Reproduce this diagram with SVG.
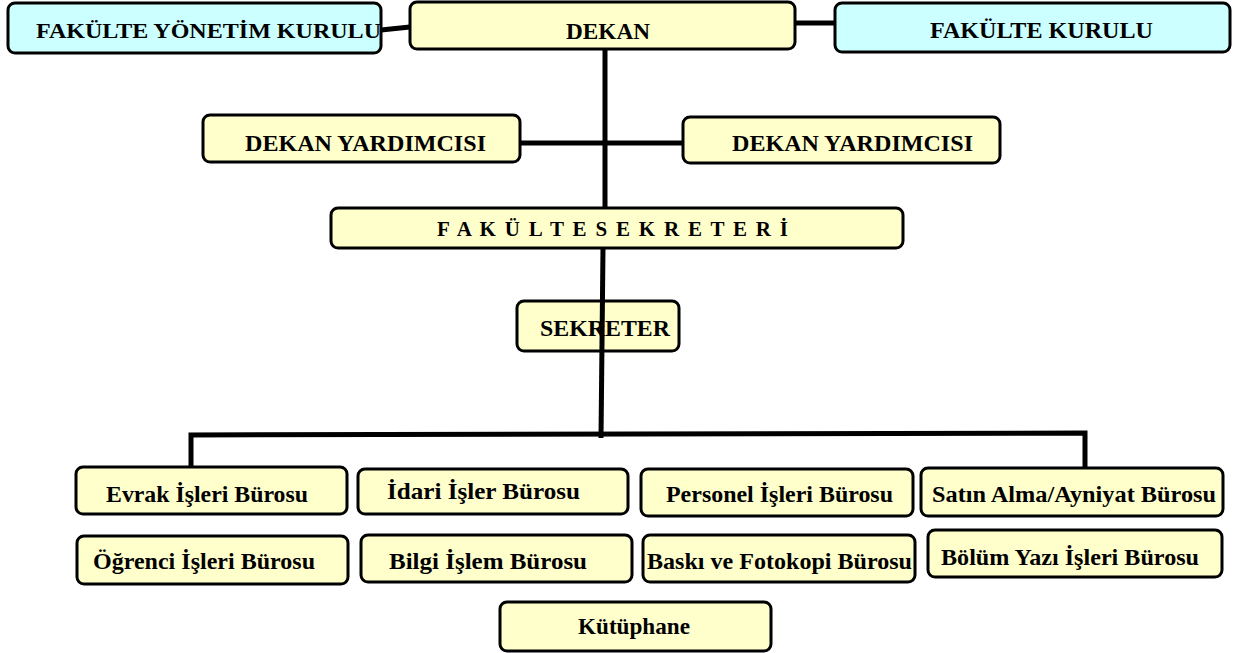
<svg xmlns="http://www.w3.org/2000/svg" width="1235" height="653" viewBox="0 0 1235 653">
<style>
.box{fill:#FFFFCC;stroke:#000;stroke-width:3}
.cyan{fill:#CCFFFF;stroke:#000;stroke-width:3}
.t{font-family:"Liberation Serif","Times New Roman",serif;font-weight:bold;fill:#000}
.c{fill:none;stroke:#000;stroke-width:5;stroke-linejoin:miter}
</style>
<rect width="1235" height="653" fill="#fff"/>
<g id="fakulte-yonetim-kurulu">
<rect class="cyan" x="8" y="3" width="373" height="50" rx="7"/>
<text class="t" x="36" y="38" font-size="22" textLength="345" lengthAdjust="spacingAndGlyphs">FAKÜLTE YÖNETİM KURULU</text>
</g>
<g id="dekan">
<rect class="box" x="410" y="2" width="385" height="47" rx="7"/>
<text class="t" x="566" y="39" font-size="24" textLength="84" lengthAdjust="spacingAndGlyphs">DEKAN</text>
</g>
<g id="fakulte-kurulu">
<rect class="cyan" x="835" y="3" width="395" height="49" rx="7"/>
<text class="t" x="930" y="38" font-size="23" textLength="223" lengthAdjust="spacingAndGlyphs">FAKÜLTE KURULU</text>
</g>
<g id="dekan-yardimcisi-1">
<rect class="box" x="203" y="115" width="317" height="47" rx="7"/>
<text class="t" x="245" y="151" font-size="23" textLength="241" lengthAdjust="spacingAndGlyphs">DEKAN YARDIMCISI</text>
</g>
<g id="dekan-yardimcisi-2">
<rect class="box" x="683" y="117" width="317" height="46" rx="7"/>
<text class="t" x="732" y="151" font-size="23" textLength="241" lengthAdjust="spacingAndGlyphs">DEKAN YARDIMCISI</text>
</g>
<g id="fakulte-sekreteri">
<rect class="box" x="331" y="208" width="572" height="40" rx="7"/>
<text class="t" x="437" y="236" font-size="21" textLength="351" lengthAdjust="spacing">F A K Ü L T E S E K R E T E R İ</text>
</g>
<g id="sekreter">
<rect class="box" x="517" y="301" width="162" height="50" rx="7"/>
<text class="t" x="540" y="336" font-size="24" textLength="130" lengthAdjust="spacingAndGlyphs">SEKRETER</text>
</g>
<g id="evrak">
<rect class="box" x="76" y="467" width="271" height="47" rx="7"/>
<text class="t" x="106" y="502" font-size="23" textLength="202" lengthAdjust="spacingAndGlyphs">Evrak İşleri Bürosu</text>
</g>
<g id="idari">
<rect class="box" x="358" y="469" width="270" height="45" rx="7"/>
<text class="t" x="387" y="499" font-size="23" textLength="193" lengthAdjust="spacingAndGlyphs">İdari İşler Bürosu</text>
</g>
<g id="personel">
<rect class="box" x="641" y="469" width="272" height="47" rx="7"/>
<text class="t" x="666" y="502" font-size="23" textLength="227" lengthAdjust="spacingAndGlyphs">Personel İşleri Bürosu</text>
</g>
<g id="satin-alma">
<rect class="box" x="921" y="468" width="302" height="48" rx="7"/>
<text class="t" x="932" y="502" font-size="23" textLength="284" lengthAdjust="spacingAndGlyphs">Satın Alma/Ayniyat Bürosu</text>
</g>
<g id="ogrenci">
<rect class="box" x="77" y="536" width="271" height="48" rx="7"/>
<text class="t" x="93" y="569" font-size="23" textLength="222" lengthAdjust="spacingAndGlyphs">Öğrenci İşleri Bürosu</text>
</g>
<g id="bilgi-islem">
<rect class="box" x="361" y="535" width="271" height="47" rx="7"/>
<text class="t" x="389" y="569" font-size="23" textLength="198" lengthAdjust="spacingAndGlyphs">Bilgi İşlem Bürosu</text>
</g>
<g id="baski">
<rect class="box" x="643" y="535" width="272" height="47" rx="7"/>
<text class="t" x="647" y="569" font-size="23" textLength="265" lengthAdjust="spacingAndGlyphs">Baskı ve Fotokopi Bürosu</text>
</g>
<g id="bolum-yazi">
<rect class="box" x="928" y="530" width="294" height="47" rx="7"/>
<text class="t" x="941" y="565" font-size="23" textLength="258" lengthAdjust="spacingAndGlyphs">Bölüm Yazı İşleri Bürosu</text>
</g>
<g id="kutuphane">
<rect class="box" x="500" y="602" width="271" height="49" rx="7"/>
<text class="t" x="578" y="634" font-size="23" textLength="112" lengthAdjust="spacingAndGlyphs">Kütüphane</text>
</g>
<g id="connectors">
<line class="c" x1="381" y1="30" x2="410" y2="27"/>
<line class="c" x1="795" y1="23" x2="835" y2="23" stroke-width="6"/>
<line class="c" x1="605" y1="49" x2="605" y2="208" stroke-width="6"/>
<line class="c" x1="520" y1="143" x2="683" y2="143" stroke-width="6"/>
<line class="c" x1="603" y1="248" x2="601" y2="438"/>
<polyline class="c" points="191,467 191,435 1085,433 1085,468"/>
</g>
</svg>
